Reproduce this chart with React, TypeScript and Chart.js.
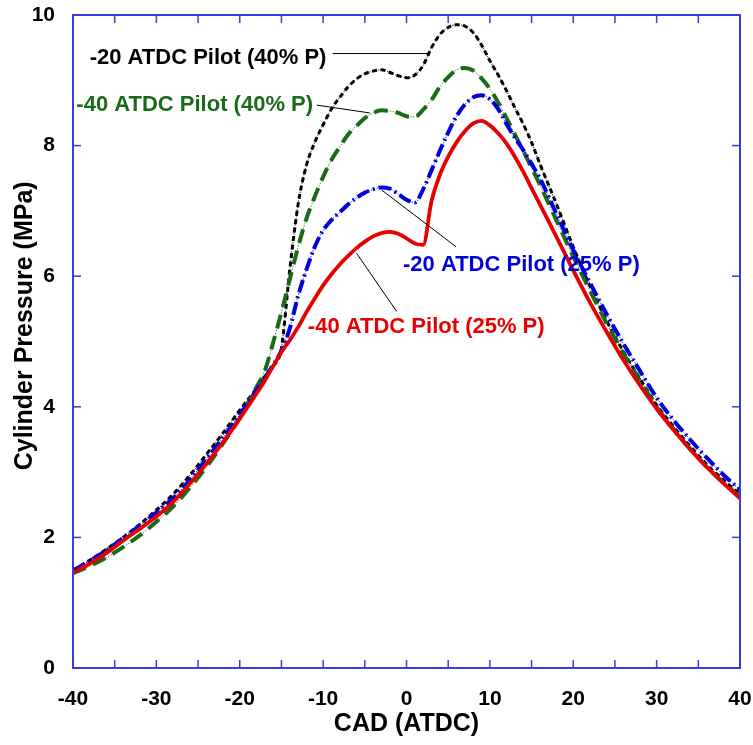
import React, { useEffect, useRef } from "react";
import { Chart, registerables } from "chart.js";

Chart.register(...registerables);

// Crank angle grid (deg ATDC)
const CAD = [
  -40, -38, -36, -34, -32, -30, -28, -26, -24, -22, -20, -18,
  -17, -16, -15, -14, -13, -12, -11, -10, -9, -8, -7, -6, -5, -4, -3, -2, -1,
  0, 1, 2, 3, 4, 5, 6, 7, 8, 9, 10, 11, 12, 13, 14, 15, 16,
  18, 20, 22, 24, 26, 28, 30, 32, 34, 36, 38, 40,
];

// -40 ATDC Pilot (25% P)
const RED_M40_25 = [
  1.46, 1.6, 1.76, 1.95, 2.13, 2.32, 2.54, 2.82, 3.13, 3.46, 3.82, 4.2,
  4.4, 4.62, 4.84, 5.02, 5.22, 5.45, 5.66, 5.86, 6.03, 6.18, 6.31, 6.43, 6.53, 6.61, 6.66, 6.68, 6.65,
  6.58, 6.5, 6.48, 7.15, 7.55, 7.83, 8.05, 8.22, 8.34, 8.38, 8.31, 8.19, 8.03, 7.83, 7.6, 7.35, 7.1,
  6.6, 6.09, 5.6, 5.15, 4.72, 4.33, 3.97, 3.65, 3.35, 3.08, 2.83, 2.6,
];

// -20 ATDC Pilot (25% P)
const BLUE_M20_25 = [
  1.49, 1.64, 1.8, 1.99, 2.18, 2.38, 2.6, 2.88, 3.2, 3.53, 3.88, 4.25,
  4.44, 4.64, 4.86, 5.2, 5.7, 6.1, 6.45, 6.7, 6.86, 6.98, 7.1, 7.2, 7.28, 7.33, 7.36, 7.34, 7.26,
  7.17, 7.13, 7.33, 7.62, 7.92, 8.2, 8.45, 8.63, 8.74, 8.77, 8.71, 8.56, 8.33, 8.12, 7.93, 7.72, 7.5,
  6.95, 6.4, 5.9, 5.42, 4.97, 4.55, 4.14, 3.8, 3.5, 3.22, 2.96, 2.73,
];

// -40 ATDC Pilot (40% P)
const GREEN_M40_40 = [
  1.45, 1.56, 1.69, 1.85, 2.03, 2.24, 2.47, 2.76, 3.08, 3.44, 3.83, 4.3,
  4.55, 4.98, 5.45, 5.95, 6.45, 6.88, 7.22, 7.52, 7.78, 7.98, 8.17, 8.3, 8.42, 8.5, 8.54, 8.53, 8.5,
  8.45, 8.44, 8.55, 8.7, 8.9, 9.05, 9.16, 9.19, 9.15, 9.03, 8.87, 8.66, 8.42, 8.17, 7.92, 7.66, 7.4,
  6.85, 6.3, 5.78, 5.28, 4.82, 4.4, 4.0, 3.66, 3.36, 3.08, 2.84, 2.62,
];

// -20 ATDC Pilot (40% P)
const BLACK_M20_40 = [
  1.5, 1.65, 1.82, 2.0, 2.2, 2.42, 2.66, 2.95, 3.27, 3.6, 3.95, 4.28,
  4.46, 4.62, 4.9, 6.1, 7.1, 7.7, 8.05, 8.32, 8.56, 8.74, 8.9, 9.02, 9.1, 9.14, 9.16, 9.12, 9.07,
  9.04, 9.08, 9.23, 9.5, 9.7, 9.81, 9.85, 9.83, 9.73, 9.54, 9.3, 9.08, 8.84, 8.58, 8.33, 8.05, 7.72,
  7.1, 6.45, 5.85, 5.32, 4.85, 4.43, 4.03, 3.7, 3.4, 3.12, 2.88, 2.66,
];

const X_LABEL_TICKS = [-40, -30, -20, -10, 0, 10, 20, 30, 40];
const X_TICK_MARKS = [-40, -35, -30, -25, -20, -15, -10, -5, 0, 5, 10, 15, 20, 25, 30, 35, 40];
const Y_TICKS = [0, 2, 4, 6, 8, 10];

const X_TITLE = "CAD (ATDC)";
const Y_TITLE = "Cylinder Pressure (MPa)";

// Annotation labels, anchored in data coordinates
const ANNOTATION_TEXT = [
  "-20 ATDC Pilot (40% P)",
  "-40 ATDC Pilot (40% P)",
  "-20 ATDC Pilot (25% P)",
  "-40 ATDC Pilot (25% P)",
];
const ANNOTATION_POS = [
  [-38.0, 9.35],
  [-39.6, 8.63],
  [-0.42, 6.17],
  [-11.83, 5.22],
];
const LEADER_LINES = [
  [-8.85, 9.41, 2.82, 9.41],
  [-10.75, 8.62, -4.4, 8.5],
  [-2.98, 7.32, 5.95, 6.45],
  [-5.98, 6.35, -1.18, 5.46],
];

const BLACK = "#000000";
const GREEN = "#1a6a1a";
const BLUE = "#0000dd";
const RED = "#e60000";
const FRAME = "#3b3be0";
const ANNOTATION_COLORS = [BLACK, GREEN, BLUE, RED];

const FONT = "'Liberation Sans', Arial, Helvetica, sans-serif";

const pts = (ys: number[]) => CAD.map((x, i) => ({ x, y: ys[i] }));

const decorPlugin = {
  id: "decor",
  afterDatasetsDraw(chart: any) {
    const { ctx, chartArea } = chart;
    const { left, right, top, bottom } = chartArea;
    const xs = chart.scales.x;
    const ys = chart.scales.y;
    ctx.save();
    // leader lines
    ctx.strokeStyle = "#000";
    ctx.lineWidth = 1;
    LEADER_LINES.forEach((l) => {
      ctx.beginPath();
      ctx.moveTo(xs.getPixelForValue(l[0]), ys.getPixelForValue(l[1]));
      ctx.lineTo(xs.getPixelForValue(l[2]), ys.getPixelForValue(l[3]));
      ctx.stroke();
    });
    // annotation text
    ctx.font = `bold 22px ${FONT}`;
    ctx.textAlign = "left";
    ctx.textBaseline = "middle";
    ANNOTATION_TEXT.forEach((t, i) => {
      ctx.fillStyle = ANNOTATION_COLORS[i];
      ctx.fillText(t, xs.getPixelForValue(ANNOTATION_POS[i][0]), ys.getPixelForValue(ANNOTATION_POS[i][1]));
    });
    // frame
    ctx.strokeStyle = FRAME;
    ctx.lineWidth = 2;
    ctx.strokeRect(left, top, right - left, bottom - top);
    // inward ticks
    ctx.lineWidth = 1.5;
    const seg = (a: number, b: number, c: number, d: number) => {
      ctx.beginPath();
      ctx.moveTo(a, b);
      ctx.lineTo(c, d);
      ctx.stroke();
    };
    X_TICK_MARKS.forEach((v) => {
      const px = xs.getPixelForValue(v);
      seg(px, bottom, px, bottom - 8);
      seg(px, top, px, top + 8);
    });
    Y_TICKS.forEach((v) => {
      const py = ys.getPixelForValue(v);
      seg(left, py, left + 8, py);
      seg(right, py, right - 8, py);
    });
    // y-axis title
    ctx.fillStyle = "#000";
    ctx.font = `bold 25px ${FONT}`;
    ctx.textAlign = "center";
    ctx.textBaseline = "middle";
    ctx.translate(25, ys.getPixelForValue(5.24));
    ctx.rotate(-Math.PI / 2);
    ctx.fillText(Y_TITLE, 0, 0);
    ctx.restore();
  },
};

const zeroPad = (s: any) => {
  s.paddingTop = 0;
  s.paddingBottom = 0;
  s.paddingLeft = 0;
  s.paddingRight = 0;
};

export default function App() {
  const ref = useRef<HTMLCanvasElement | null>(null);

  useEffect(() => {
    if (!ref.current) return;
    const thick = (label: string, data: number[], color: string, width: number, dash: number[]) => ({
      label,
      data: pts(data),
      borderColor: color,
      borderWidth: width,
      borderDash: dash,
      pointRadius: 0,
      fill: false,
      cubicInterpolationMode: "monotone" as const,
    });
    const thin = (label: string, data: number[], color: string) => ({
      label,
      data: pts(data),
      borderColor: color,
      borderWidth: 0.8,
      borderDash: [1.5, 1.5],
      pointRadius: 0,
      fill: false,
      cubicInterpolationMode: "monotone" as const,
    });
    const chart = new Chart(ref.current, {
      type: "line",
      data: {
        datasets: [
          thick("-40 ATDC Pilot (25% P)", RED_M40_25, RED, 3.8, []),
          thick("-20 ATDC Pilot (25% P)", BLUE_M20_25, BLUE, 4, [13, 4, 2, 4]),
          thin("-20 ATDC Pilot (25% P) thin", BLUE_M20_25, BLUE),
          thick("-40 ATDC Pilot (40% P)", GREEN_M40_40, GREEN, 4, [14, 8]),
          thin("-40 ATDC Pilot (40% P) thin", GREEN_M40_40, GREEN),
          thick("-20 ATDC Pilot (40% P)", BLACK_M20_40, BLACK, 3, [5, 3.5]),
          thin("-20 ATDC Pilot (40% P) thin", BLACK_M20_40, BLACK),
        ],
      },
      options: {
        responsive: false,
        animation: false,
        layout: { padding: { top: 15, right: 13, left: 0, bottom: 0 } },
        plugins: { legend: { display: false }, tooltip: { enabled: false } },
        scales: {
          x: {
            type: "linear",
            min: -40,
            max: 40,
            afterFit: (s: any) => {
              s.height = 77;
              zeroPad(s);
            },
            afterBuildTicks: (s: any) => {
              s.ticks = X_LABEL_TICKS.map((v) => ({ value: v }));
            },
            grid: { display: false, drawTicks: false },
            border: { display: false },
            ticks: {
              padding: 19,
              color: "#000",
              font: { family: FONT, size: 21, weight: "bold" },
              maxRotation: 0,
            },
            title: {
              display: true,
              text: X_TITLE,
              color: "#000",
              font: { family: FONT, size: 25, weight: "bold" },
              padding: { top: 0, bottom: 6 },
            },
          },
          y: {
            type: "linear",
            min: 0,
            max: 10,
            afterFit: (s: any) => {
              s.width = 73;
              zeroPad(s);
            },
            afterBuildTicks: (s: any) => {
              s.ticks = Y_TICKS.map((v) => ({ value: v }));
            },
            grid: { display: false, drawTicks: false },
            border: { display: false },
            ticks: {
              padding: 18,
              color: "#000",
              font: { family: FONT, size: 21, weight: "bold" },
            },
          },
        },
      },
      plugins: [decorPlugin],
    });
    return () => chart.destroy();
  }, []);

  return (
    <div style={{ position: "absolute", left: 0, top: 0, width: 753, height: 745 }}>
      <canvas ref={ref} width={753} height={745} style={{ width: 753, height: 745 }} />
    </div>
  );
}
